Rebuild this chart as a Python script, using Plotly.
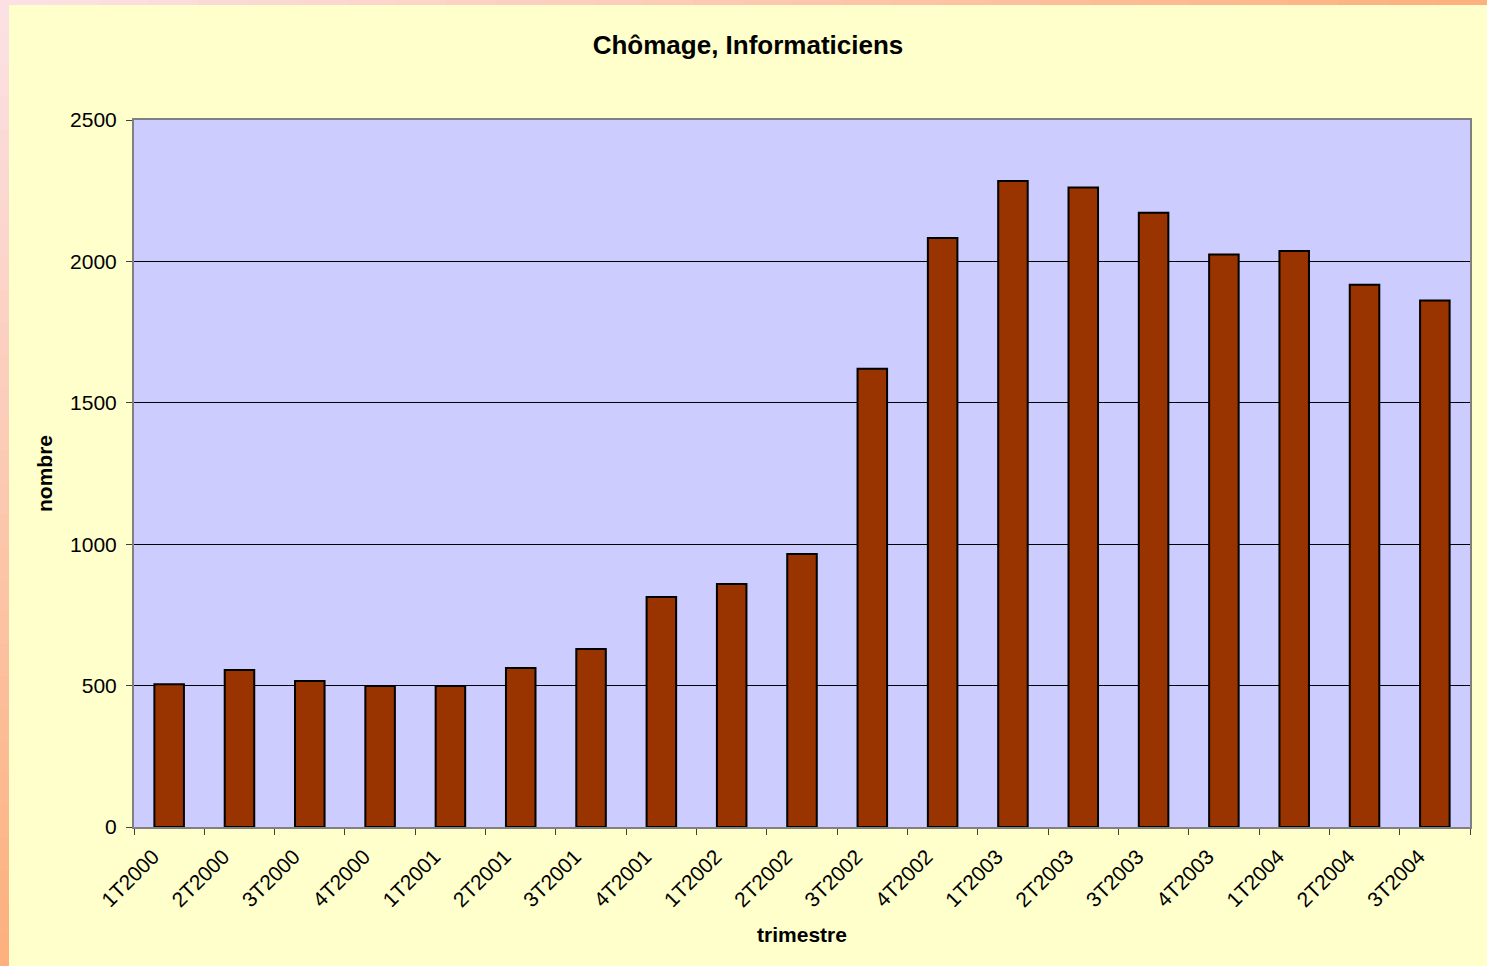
import plotly.graph_objects as go

categories = ["1T2000", "2T2000", "3T2000", "4T2000", "1T2001", "2T2001", "3T2001",
              "4T2001", "1T2002", "2T2002", "3T2002", "4T2002", "1T2003", "2T2003",
              "3T2003", "4T2003", "1T2004", "2T2004", "3T2004"]
values = [505, 555, 516, 499, 499, 562, 629, 813, 859, 965, 1620, 2083, 2284, 2261,
          2172, 2024, 2037, 1917, 1862]
y_ticks = [0, 500, 1000, 1500, 2000, 2500]

W, H = 1487, 966
L, R, T, B = 134, 17, 120, 139
PW, PH = W - L - R, H - T - B

def px_x(px):
    return (px - L) / PW

def px_y(py):
    return (H - B - py) / PH

def lerp(c1, c2, t):
    return "rgb(%d,%d,%d)" % tuple(round(a + (b - a) * t) for a, b in zip(c1, c2))

pink = (251, 226, 230)
orange = (253, 176, 124)

shapes = []
n = 30
# top strip
for i in range(n):
    x0 = W * i / n
    x1 = W * (i + 1) / n + 1
    shapes.append(dict(type="rect", xref="paper", yref="paper",
                       x0=px_x(x0), x1=px_x(x1), y0=px_y(5), y1=px_y(0),
                       fillcolor=lerp(pink, orange, (i + 0.5) / n), line=dict(width=0),
                       layer="below"))
# left strip
for i in range(n):
    y0 = H * i / n
    y1 = H * (i + 1) / n + 1
    shapes.append(dict(type="rect", xref="paper", yref="paper",
                       x0=px_x(0), x1=px_x(9), y0=px_y(y1), y1=px_y(y0),
                       fillcolor=lerp(pink, orange, (i + 0.5) / n), line=dict(width=0),
                       layer="below"))

fig = go.Figure(go.Bar(
    x=categories, y=values,
    marker=dict(color="#993300", line=dict(color="black", width=2)),
    width=0.42,
))

font = "Liberation Sans, Arial, sans-serif"

fig.update_layout(
    width=W, height=H,
    margin=dict(l=L, r=R, t=T, b=B, pad=0),
    paper_bgcolor="#FFFFCC",
    plot_bgcolor="#CCCCFF",
    font=dict(family=font, color="black", size=21),
    title=dict(text="<b>Chômage, Informaticiens</b>", x=748 / W, xref="container",
               xanchor="center", y=1 - 45 / H, yanchor="middle",
               font=dict(size=26, family=font)),
    showlegend=False,
    shapes=shapes,
    xaxis=dict(
        type="category",
        tickangle=-45,
        tickson="boundaries",
        ticks="outside", ticklen=6, tickcolor="#404040", tickwidth=1,
        showline=True, linecolor="#808080", linewidth=2, mirror=True,
        showgrid=False,
        tickfont=dict(size=21, family=font),
        ticklabelshift=-16,
        ticklabelstandoff=7,
        title=dict(text="<b>trimestre</b>", font=dict(size=21, family=font), standoff=17),
    ),
    yaxis=dict(
        range=[0, 2500],
        tickvals=y_ticks,
        ticktext=[str(v) for v in y_ticks],
        ticks="outside", ticklen=6, tickcolor="#404040", tickwidth=1,
        showline=True, linecolor="#808080", linewidth=2, mirror=True,
        showgrid=True, gridcolor="black", gridwidth=1,
        zeroline=False,
        tickfont=dict(size=21, family=font),
        ticklabelstandoff=5,
        title=dict(text="<b>nombre</b>", font=dict(size=21, family=font), standoff=12),
    ),
)

fig.write_html("out.html", config={"displayModeBar": False},
               post_script="document.body.style.margin='0';")
